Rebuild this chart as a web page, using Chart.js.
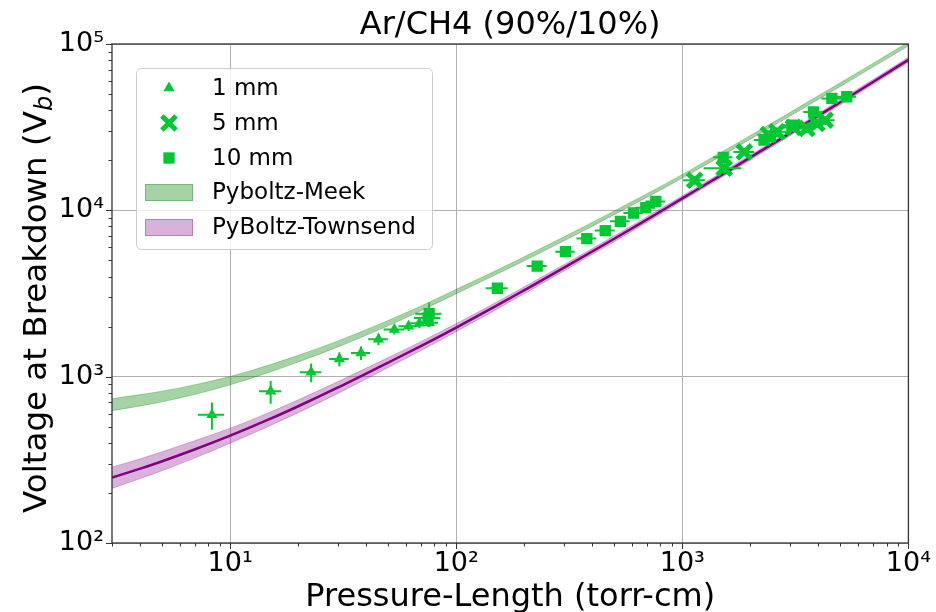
<!DOCTYPE html>
<html>
<head>
<meta charset="utf-8">
<script src="https://cdn.jsdelivr.net/npm/chart.js@4.4.0/dist/chart.umd.min.js"></script>
<style>
  html, body { margin: 0; padding: 0; background: #fff; }
</style>
</head>
<body>
<canvas id="chartBreakdown" width="936" height="612"></canvas>
<script>
// Breakdown voltage vs pressure-length, Ar/CH4 90/10
var FONT = 'DejaVu Sans';
var GREEN = 'rgb(0,200,50)';

// measured points, 1 mm gap
var mm1X    = [8.3, 15.1, 22.8, 30.4, 37.9, 45.3, 53.2, 61.5, 68.7, 76.0];
var mm1Y    = [590, 816, 1062, 1278, 1389, 1678, 1920, 2010, 2094, 2110];
var mm1XErr = [1.1, 1.7, 2.5, 3.0, 3.7, 4.5, 5.5, 6.0, 6.5, 7.0];
var mm1YErr = [110, 128, 137, 125, 130, 135, 130, 130, 130, 130];

// 5 mm gap
var mm5X    = [1133, 1532, 1880, 2400, 2620, 3100, 3555, 3940, 4285];
var mm5Y    = [15170, 17900, 22440, 28500, 29660, 31500, 31030, 33270, 34840];
var mm5XErr = [125, 290, 200, 250, 270, 320, 360, 400, 430];
var mm5YErr = [900, 1400, 1300, 1700, 1800, 1900, 1900, 2000, 2100];

// 10 mm gap
var mm10X    = [75.9, 75.0, 152, 228, 304, 378, 456, 532, 609, 689, 763, 1517, 2300, 2450, 3055, 3805, 4585, 5337];
var mm10Y    = [2390, 2250, 3400, 4620, 5640, 6760, 7560, 8590, 9640, 10380, 11320, 20840, 26430, 27800, 32500, 39060, 47100, 48200];
var mm10XErr = [10, 10, 17, 23, 30, 38, 46, 53, 61, 69, 76, 150, 230, 245, 305, 380, 460, 530];
var mm10YErr = [400, 250, 140, 180, 220, 270, 300, 340, 380, 410, 450, 830, 1050, 1100, 1300, 1560, 1880, 1930];

// PyBoltz predictions: band edges plus the central Townsend curve
var curveX   = [3, 4, 5, 7, 10, 15, 20, 30, 50, 70, 100, 150, 200, 300, 500, 700, 1000, 1500, 2000, 3000, 5000, 7000, 10000];
var meekLow  = [624, 667, 706, 783, 893, 1067, 1225, 1510, 2023, 2495, 3155, 4111, 4977, 6561, 9419, 11995, 15631, 21380, 26792, 36898, 55590, 72946, 97499];
var meekHigh = [736, 780, 818, 895, 1002, 1180, 1343, 1641, 2178, 2661, 3350, 4345, 5260, 6934, 9908, 12619, 16444, 22491, 28184, 38815, 58479, 76736, 102565];
var townMid  = [247, 280, 310, 366, 442, 557, 664, 861, 1216, 1531, 1972, 2661, 3311, 4519, 6745, 8831, 11803, 16406, 20797, 29107, 44668, 59293, 80353];
var townLow  = [213, 244, 272, 325, 398, 507, 607, 793, 1135, 1439, 1866, 2529, 3155, 4325, 6471, 8492, 11402, 15849, 20091, 28119, 43152, 57280, 77625];
var townHigh = [286, 321, 354, 413, 490, 612, 726, 935, 1303, 1629, 2084, 2799, 3475, 4721, 7031, 9183, 12218, 16982, 21528, 30130, 46238, 61376, 83176];

// axis decades
var xMajorTicks = [10, 100, 1000, 10000];
var xTickLabels = ['10\u00b9', '10\u00b2', '10\u00b3', '10\u2074'];
var yMajorTicks = [100, 1000, 10000, 100000];
var yTickLabels = ['10\u00b2', '10\u00b3', '10\u2074', '10\u2075'];

var legendLabels = ['1 mm', '5 mm', '10 mm', 'Pyboltz-Meek', 'PyBoltz-Townsend'];

function pts(xs, ys) {
    var out = [];
    for (var i = 0; i < xs.length; i++) out.push({ x: xs[i], y: ys[i] });
    return out;
}

// every 1..9 x 10^n between lo and hi
function logTicks(lo, hi) {
    var t = [];
    for (var d = 1; d <= 100000; d *= 10) {
        for (var m = 1; m <= 9; m++) {
            var v = m * d;
            if (v >= lo && v <= hi) t.push(v);
        }
    }
    return t;
}

var errSets = [
    [mm1XErr, mm1YErr],
    [mm5XErr, mm5YErr],
    [mm10XErr, mm10YErr]
];

var decor = {
    id: 'decor',
    afterDatasetsDraw: function(chart) {
        var ctx = chart.ctx, xs = chart.scales.x, ys = chart.scales.y;
        var a = chart.chartArea;
        ctx.save();
        ctx.beginPath();
        ctx.rect(a.left, a.top, a.right - a.left, a.bottom - a.top);
        ctx.clip();
        ctx.strokeStyle = GREEN;
        ctx.lineWidth = 2;
        for (var d = 0; d < errSets.length; d++) {
            var data = chart.data.datasets[d].data;
            for (var i = 0; i < data.length; i++) {
                var p = data[i], ex = errSets[d][0][i], ey = errSets[d][1][i];
                var px = xs.getPixelForValue(p.x), py = ys.getPixelForValue(p.y);
                ctx.beginPath();
                ctx.moveTo(xs.getPixelForValue(p.x - ex), py);
                ctx.lineTo(xs.getPixelForValue(p.x + ex), py);
                ctx.moveTo(px, ys.getPixelForValue(p.y - ey));
                ctx.lineTo(px, ys.getPixelForValue(p.y + ey));
                ctx.stroke();
            }
        }
        ctx.restore();
    },
    afterDraw: function(chart) {
        var ctx = chart.ctx, xs = chart.scales.x, ys = chart.scales.y;
        var a = chart.chartArea;
        ctx.save();

        // tick marks
        ctx.strokeStyle = '#333';
        ctx.lineWidth = 1;
        ctx.beginPath();
        xs.ticks.forEach(function(t) {
            var px = Math.round(xs.getPixelForValue(t.value)) + 0.5;
            var len = xMajorTicks.indexOf(t.value) >= 0 ? 6 : 3.5;
            ctx.moveTo(px, a.bottom);
            ctx.lineTo(px, a.bottom + len);
        });
        ys.ticks.forEach(function(t) {
            var py = Math.round(ys.getPixelForValue(t.value)) + 0.5;
            var len = yMajorTicks.indexOf(t.value) >= 0 ? 6 : 3.5;
            ctx.moveTo(a.left, py);
            ctx.lineTo(a.left - len, py);
        });
        ctx.stroke();

        // frame
        ctx.lineWidth = 1.3;
        ctx.strokeRect(a.left, a.top, a.right - a.left, a.bottom - a.top);

        // title + axis titles
        ctx.fillStyle = '#000';
        ctx.font = '32px "' + FONT + '"';
        ctx.textAlign = 'center';
        ctx.textBaseline = 'alphabetic';
        ctx.fillText('Ar/CH4 (90%/10%)', (a.left + a.right) / 2, 34);
        ctx.fillText('Pressure-Length (torr-cm)', (a.left + a.right) / 2, 606);

        var head = 'Voltage at Breakdown (V', sub = 'b', tail = ')';
        ctx.textAlign = 'left';
        ctx.font = '32.5px "' + FONT + '"';
        var wHead = ctx.measureText(head).width;
        var wTail = ctx.measureText(tail).width;
        ctx.font = 'italic 24px "' + FONT + '"';
        var wSub = ctx.measureText(sub).width;
        var total = wHead + wSub + wTail;
        ctx.translate(46, 298);
        ctx.rotate(-Math.PI / 2);
        ctx.font = '32.5px "' + FONT + '"';
        ctx.fillText(head, -total / 2, 0);
        ctx.font = 'italic 24px "' + FONT + '"';
        ctx.fillText(sub, -total / 2 + wHead, 6);
        ctx.font = '32.5px "' + FONT + '"';
        ctx.fillText(tail, -total / 2 + wHead + wSub, 0);
        ctx.setTransform(1, 0, 0, 1, 0, 0);

        // legend
        var bx = 136, by = 68, bw = 296, bh = 181;
        ctx.beginPath();
        ctx.roundRect(bx + 0.5, by + 0.5, bw, bh, 5);
        ctx.fillStyle = 'rgba(255,255,255,0.8)';
        ctx.fill();
        ctx.strokeStyle = '#cccccc';
        ctx.lineWidth = 1;
        ctx.stroke();

        var rows = [88, 123, 158, 192, 227];
        var mx = 169;
        var sets = chart.data.datasets;
        for (var k = 0; k < 3; k++) {
            var ds = sets[k];
            ctx.fillStyle = GREEN;
            ctx.strokeStyle = GREEN;
            ctx.lineWidth = ds.pointBorderWidth;
            Chart.helpers.drawPoint(ctx, {
                pointStyle: ds.pointStyle,
                radius: ds.pointRadius,
                borderWidth: ds.pointBorderWidth,
                rotation: 0
            }, mx, rows[k]);
        }
        var swatches = [
            ['rgba(0,128,0,0.35)', 'rgba(0,128,0,0.3)'],
            ['rgba(128,0,128,0.3)', 'rgba(128,0,128,0.3)']
        ];
        ctx.lineWidth = 1;
        for (var s = 0; s < 2; s++) {
            ctx.fillStyle = swatches[s][0];
            ctx.strokeStyle = swatches[s][1];
            ctx.fillRect(145, rows[3 + s] - 8, 48, 17);
            ctx.strokeRect(145.5, rows[3 + s] - 7.5, 47, 16);
        }
        ctx.fillStyle = '#000';
        ctx.font = '23px "' + FONT + '"';
        ctx.textAlign = 'left';
        ctx.textBaseline = 'middle';
        for (var r = 0; r < legendLabels.length; r++) {
            ctx.fillText(legendLabels[r], 212, rows[r] + 1);
        }
        ctx.restore();
    }
};

function bandLine(label, ys, edge, fillColor) {
    return {
        label: label,
        data: pts(curveX, ys),
        borderColor: edge,
        borderWidth: 1,
        backgroundColor: fillColor || 'rgba(0,0,0,0)',
        pointRadius: 0,
        fill: fillColor ? '+1' : false,
        cubicInterpolationMode: 'monotone'
    };
}

var ctx = document.getElementById('chartBreakdown').getContext('2d');
var chart = new Chart(ctx, {
    type: 'line',
    data: {
        datasets: [{
            label: '1 mm',
            data: pts(mm1X, mm1Y),
            showLine: false,
            pointStyle: 'triangle',
            pointRadius: 6.5,
            pointBorderWidth: 0,
            pointBackgroundColor: GREEN,
            pointBorderColor: GREEN
        }, {
            label: '5 mm',
            data: pts(mm5X, mm5Y),
            showLine: false,
            pointStyle: 'crossRot',
            pointRadius: 10,
            pointBorderWidth: 5,
            pointBackgroundColor: GREEN,
            pointBorderColor: GREEN
        }, {
            label: '10 mm',
            data: pts(mm10X, mm10Y),
            showLine: false,
            pointStyle: 'rect',
            pointRadius: 8,
            pointBorderWidth: 0,
            pointBackgroundColor: GREEN,
            pointBorderColor: GREEN
        }, {
            label: 'PyBoltz-Townsend',
            data: pts(curveX, townMid),
            borderColor: '#800080',
            borderWidth: 2.5,
            pointRadius: 0,
            fill: false,
            cubicInterpolationMode: 'monotone'
        },
        bandLine('Townsend high', townHigh, 'rgba(128,0,128,0.25)', 'rgba(128,0,128,0.3)'),
        bandLine('Townsend low', townLow, 'rgba(128,0,128,0.25)'),
        bandLine('Meek high', meekHigh, 'rgba(0,128,0,0.3)', 'rgba(0,128,0,0.35)'),
        bandLine('Meek low', meekLow, 'rgba(0,128,0,0.3)')]
    },
    options: {
        responsive: false,
        animation: false,
        devicePixelRatio: 1,
        layout: { padding: { left: 0, right: 24, top: 44, bottom: 0 } },
        plugins: {
            legend: { display: false },
            tooltip: { enabled: false },
            title: { display: false }
        },
        scales: {
            x: {
                type: 'logarithmic',
                min: 3,
                max: 10000,
                afterFit: function(s) { s.height = 69; },
                afterBuildTicks: function(s) {
                    s.ticks = logTicks(3, 10000).map(function(v) { return { value: v }; });
                },
                ticks: {
                    autoSkip: false,
                    maxRotation: 0,
                    padding: 5,
                    color: '#000',
                    font: { family: FONT, size: 27 },
                    callback: function(v) {
                        var i = xMajorTicks.indexOf(v);
                        return i >= 0 ? xTickLabels[i] : '';
                    }
                },
                grid: {
                    drawTicks: false,
                    lineWidth: 1,
                    color: function(c) {
                        return c.tick && xMajorTicks.indexOf(c.tick.value) >= 0 ? '#b0b0b0' : 'rgba(0,0,0,0)';
                    }
                },
                border: { display: false }
            },
            y: {
                type: 'logarithmic',
                min: 100,
                max: 100000,
                afterFit: function(s) { s.width = 112; },
                afterBuildTicks: function(s) {
                    s.ticks = logTicks(100, 100000).map(function(v) { return { value: v }; });
                },
                ticks: {
                    autoSkip: false,
                    padding: 8,
                    color: '#000',
                    font: { family: FONT, size: 27 },
                    callback: function(v) {
                        var i = yMajorTicks.indexOf(v);
                        return i >= 0 ? yTickLabels[i] : '';
                    }
                },
                grid: {
                    drawTicks: false,
                    lineWidth: 1,
                    color: function(c) {
                        return c.tick && yMajorTicks.indexOf(c.tick.value) >= 0 ? '#b0b0b0' : 'rgba(0,0,0,0)';
                    }
                },
                border: { display: false }
            }
        }
    },
    plugins: [decor]
});
</script>
</body>
</html>
